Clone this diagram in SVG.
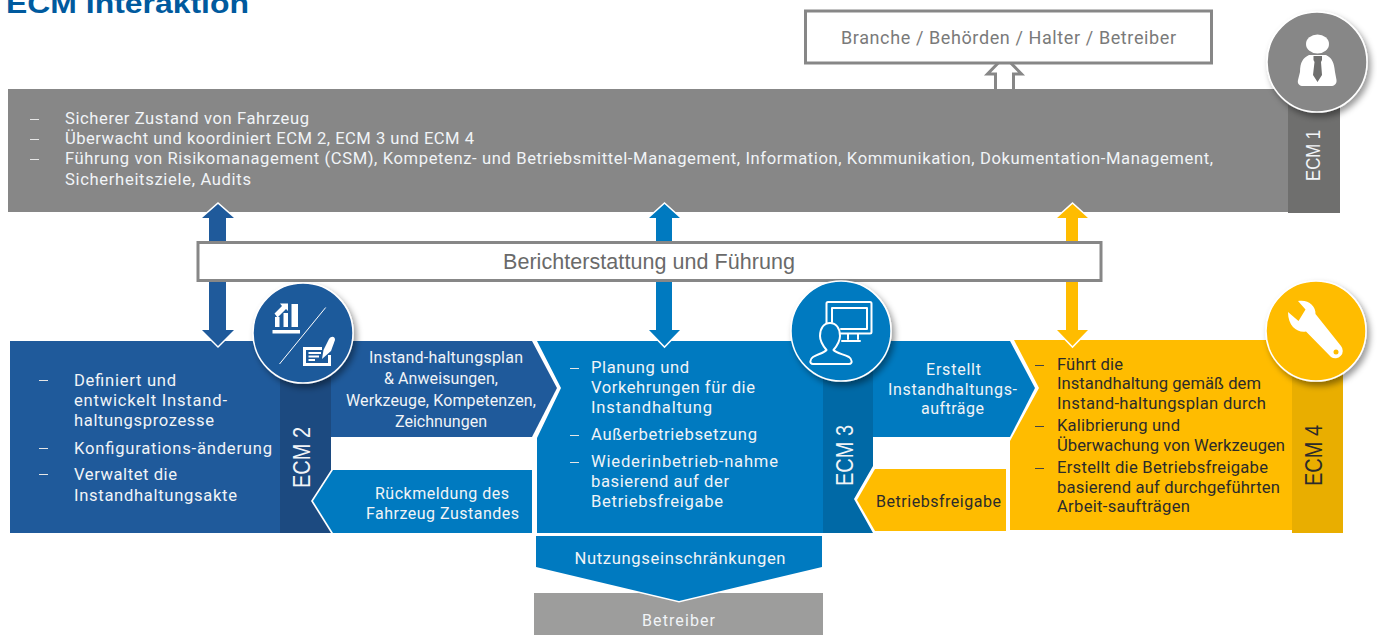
<svg xmlns="http://www.w3.org/2000/svg" width="1377" height="635" viewBox="0 0 1377 635">
<style>
text{font-family:Roboto,"Liberation Sans",sans-serif;font-size:16.6px}
.w{fill:#f1f4f7}.d{fill:#2b2b2b}.c{text-anchor:middle}
.e{font-family:"Liberation Sans",Arial,sans-serif;text-anchor:middle}
.dash{stroke-width:1;fill:none}
.ds{stroke:#e6e6e6}.dd{stroke:#444}
.circ{stroke:#fff;stroke-width:1.5;filter:url(#sh)}
.gr{fill:#878787}.b1{fill:#1f5a9b}.b2{fill:#007ac0}.y{fill:#ffbc00}
.ol{stroke:#fff;stroke-width:3;paint-order:stroke}
.ic{fill:none;stroke:#fff;stroke-width:2;stroke-linejoin:round;stroke-linecap:round}
.f15{font-size:16px}
.ev{font-size:23px}
</style>
<defs>
<filter id="sh" x="-20%" y="-20%" width="150%" height="150%"><feDropShadow dx="3" dy="4" stdDeviation="3" flood-color="#000" flood-opacity=".4"/></filter>
</defs>
<rect width="1377" height="635" fill="#fff"/>
<text id="title" x="6" y="12.500" font-weight="700" textLength="243" lengthAdjust="spacingAndGlyphs" style="font-family:'Liberation Sans',Arial,sans-serif;font-size:28px;fill:#005a9e">ECM Interaktion</text>

<g id="connectors">
<path d="M995.500 89V74H987.500L1004.500 56.500L1021.500 74H1013.500V89" fill="#fff" stroke="#878787" stroke-width="3"/>
</g>

<g id="ecm1">
<rect x="8" y="89" width="1280" height="123" class="gr"/>
<rect x="1288" y="89" width="52" height="124" fill="#6f6f6e"/>
<path class="dash ds" d="M30 119.500h9M30 139.500h9M30 159.500h9"/>
<text class="w" x="65" y="124" textLength="244">Sicherer Zustand von Fahrzeug</text>
<text class="w" x="65" y="144" textLength="409">Überwacht und koordiniert ECM 2, ECM 3 und ECM 4</text>
<text class="w" x="65" y="164" textLength="1148">Führung von Risikomanagement (CSM), Kompetenz- und Betriebsmittel-Management, Information, Kommunikation, Dokumentation-Management,</text>
<text class="w" x="65" y="185" textLength="186">Sicherheitsziele, Audits</text>
<text class="e w" transform="translate(1320 155.500) rotate(-90)" textLength="51" lengthAdjust="spacingAndGlyphs" style="font-size:20px" x="0" y="0">ECM 1</text>
<circle cx="1317" cy="62" r="50" class="gr circ"/>
<ellipse cx="1317.500" cy="44" rx="11.500" ry="9.500" fill="#fff"/>
<path d="M1309 55H1326C1332 58 1334 62 1335 72L1336.500 80C1337 84 1334 86 1331 86H1303C1300 86 1297 84 1298 80L1300 72C1300 62 1303 58 1309 55Z" fill="#fff"/>
<path d="M1313.500 56H1322V60L1321 62L1322 75L1317.500 82L1313 75L1314.500 62L1313.500 60Z" fill="#6f6f6e"/>
</g>

<g id="stakeholders">
<rect x="805.500" y="11" width="406" height="52" fill="#fff" stroke="#878787" stroke-width="3"/>
<text x="1008.500" y="44" class="c" textLength="335" style="font-size:18px;fill:#7a7a7a">Branche / Behörden / Halter / Betreiber</text>
</g>

<g id="ecm2">
<rect x="10" y="341" width="270" height="192" class="b1"/>
<path d="M280 341H331V470L311 501L331 533H280Z" fill="#1c4a80"/>
<path class="dash ds" d="M39 380.500h9M39 448.500h9M39 474.500h9"/>
<text class="w" x="74" y="386" textLength="102">Definiert und</text>
<text class="w" x="74" y="406" textLength="153">entwickelt Instand-</text>
<text class="w" x="74" y="426" textLength="140">haltungsprozesse</text>
<text class="w" x="74" y="454" textLength="198">Konfigurations-änderung</text>
<text class="w" x="74" y="480" textLength="103">Verwaltet die</text>
<text class="w" x="74" y="501" textLength="163">Instandhaltungsakte</text>
<text class="e w ev" transform="translate(310 457.500) rotate(-90)" textLength="61" lengthAdjust="spacingAndGlyphs">ECM 2</text>
</g>

<g id="ecm3">
<path d="M537 341H823V533H537V438L561 388L537 341Z" class="b2"/>
<path d="M823 341H873V466L854 499L873 533H823Z" fill="#0069a6"/>
<path class="dash ds" d="M570 368.500h9M570 435.500h9M570 462.500h9"/>
<text class="w" x="591" y="373" textLength="98">Planung und</text>
<text class="w" x="591" y="393" textLength="164">Vorkehrungen für die</text>
<text class="w" x="591" y="413" textLength="121">Instandhaltung</text>
<text class="w" x="591" y="440" textLength="166">Außerbetriebsetzung</text>
<text class="w" x="591" y="467" textLength="187">Wiederinbetrieb-nahme</text>
<text class="w" x="591" y="487" textLength="138">basierend auf der</text>
<text class="w" x="591" y="507" textLength="132">Betriebsfreigabe</text>
<text class="e w ev" transform="translate(853 455.500) rotate(-90)" textLength="61" lengthAdjust="spacingAndGlyphs">ECM 3</text>
</g>

<g id="ecm4">
<path d="M1014 340H1292V530H1010V441L1039 388Z" class="y"/>
<path d="M1292 340H1343V533H1292Z" fill="#e9ae00"/>
<path class="dash dd" d="M1035 365.500h9M1035 426.500h9M1035 468.500h9"/>
<text class="d" x="1057" y="370" textLength="66">Führt die</text>
<text class="d" x="1057" y="389" textLength="204">Instandhaltung gemäß dem</text>
<text class="d" x="1057" y="409" textLength="209">Instand-haltungsplan durch</text>
<text class="d" x="1057" y="431" textLength="123">Kalibrierung und</text>
<text class="d" x="1057" y="451" textLength="228">Überwachung von Werkzeugen</text>
<text class="d" x="1057" y="473" textLength="211">Erstellt die Betriebsfreigabe</text>
<text class="d" x="1057" y="493" textLength="223">basierend auf durchgeführten</text>
<text class="d" x="1057" y="512" textLength="133">Arbeit-saufträgen</text>
<text class="e d ev" transform="translate(1322 455.500) rotate(-90)" textLength="61" lengthAdjust="spacingAndGlyphs">ECM 4</text>
</g>

<g id="flow-plan">
<path d="M331 341H532L557 388L532 437H331Z" class="b1"/>
<text class="w c f15" x="446" y="363" textLength="154">Instand-haltungsplan</text>
<text class="w c f15" x="441" y="384" textLength="114">&amp; Anweisungen,</text>
<text class="w c f15" x="441" y="406" textLength="190">Werkzeuge, Kompetenzen,</text>
<text class="w c f15" x="441" y="427" textLength="92">Zeichnungen</text>
</g>
<g id="flow-rueckmeldung">
<path d="M333 470H532V533H333L313 501Z" class="b2"/>
<text class="w c f15" x="442" y="499" textLength="134">Rückmeldung des</text>
<text class="w c f15" x="442.500" y="519" textLength="153">Fahrzeug Zustandes</text>
</g>
<g id="flow-auftraege">
<path d="M873 341H1010L1035 388L1010 437H873Z" class="b2"/>
<text class="w c f15" x="953.500" y="375" textLength="55">Erstellt</text>
<text class="w c f15" x="952.500" y="395" textLength="129">Instandhaltungs-</text>
<text class="w c f15" x="952.500" y="414" textLength="63">aufträge</text>
</g>
<g id="flow-freigabe">
<path d="M875 469H1006V531H875L857 500Z" class="y"/>
<text class="d f15" x="876" y="507" textLength="125">Betriebsfreigabe</text>
</g>

<g id="betreiber">
<rect x="534" y="593" width="289" height="42" fill="#9d9d9c"/>
<text class="w c f15" x="678.500" y="626" textLength="73">Betreiber</text>
</g>
<g id="nutzung">
<path d="M536 536H822V567L679 601L536 567Z" class="b2 ol"/>
<text class="w c" x="680" y="564" textLength="211">Nutzungseinschränkungen</text>
</g>

<g id="connectors-vertical">
<path d="M209 242V218H202L218 204L234 218H226V242Z" class="b1 ol"/>
<path d="M209 280V330H202L218 346L234 330H226V280Z" class="b1 ol"/>
<path d="M656 242V218H649L664.500 204L680 218H672V242Z" class="b2 ol"/>
<path d="M656 280V330H649L664.500 346L680 330H672V280Z" class="b2 ol"/>
<path d="M1066 242V218H1057L1072.500 204L1088 218H1078V242Z" class="y ol"/>
<path d="M1066 280V330H1057L1072.500 346L1088 330H1078V280Z" class="y ol"/>
</g>

<g id="berichterstattung">
<rect x="198" y="242.500" width="903" height="38" fill="#fff" stroke="#878787" stroke-width="3"/>
<text x="649" y="269" class="e" textLength="292" style="font-size:21.500px;fill:#6a6a6a">Berichterstattung und Führung</text>
</g>

<g id="icon-ecm2">
<circle cx="303" cy="333" r="50" class="b1 circ"/>
<path d="M272.500 330H300V333.500H272.500ZM275 317H279.500V327H275ZM283.500 313H288V327H283.500ZM291.500 304H298V327H291.500ZM274.500 313.500L282 306L280 303.500H288V311L286 309L277.500 317.500Z" fill="#fff"/>
<path d="M279.500 364L325.700 307.500" stroke="#fff" stroke-width="1" fill="none"/>
<path d="M303 347H322V350H306V363H328V355H331V366H303Z" fill="#fff"/>
<path d="M308.500 353H321M308.500 356.500H319M308.500 360H315" stroke="#fff" stroke-width="1.800"/>
<path d="M322 359L323.500 350L329 339C331 336 335 336 335 340L331 351Z" fill="#fff"/>
</g>
<g id="icon-ecm3">
<circle cx="841" cy="331" r="50" class="b2 circ"/>
<path class="ic" d="M826.500 325V303.500Q826.500 302 828 302H870Q871.500 302 871.500 303.500V332Q871.500 333.500 870 333.500H841M848 334V339M858 334V339M842 341H860"/>
<path class="ic" d="M832 322V308H867V329H841"/>
<path class="ic" d="M813 364C809 364 810 359 813 357C818 354 824 353 826.500 350C824 347 820 342 820 336C820 328 824 323 830 323C836 323 840 328 840 336C840 342 836 347 833.500 350C836 353 843 354 849 357C852 359 853 364 849 364Z" style="fill:#007ac0"/>
</g>
<g id="icon-ecm4">
<circle cx="1316" cy="331" r="50" class="y circ"/>
<path d="M1298 301C1308 299 1316 306 1315.500 314L1341 346A7.500 7.500 0 0 1 1331 357L1306 331.500C1298 333 1288 327 1288 312L1298.500 321L1305.500 309.500Z" fill="#fff"/>
<circle cx="1336" cy="352" r="2.500" fill="#ffbc00"/>
</g>
</svg>
